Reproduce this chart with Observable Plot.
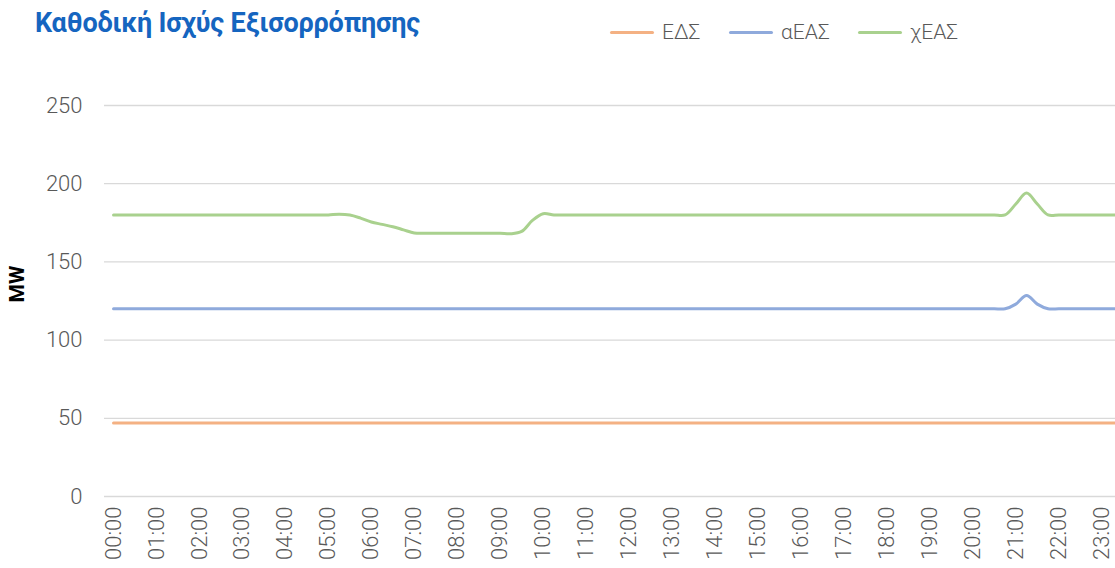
<!DOCTYPE html>
<html><head><meta charset="utf-8">
<script src="https://cdn.jsdelivr.net/npm/d3@7"></script>
<script src="https://cdn.jsdelivr.net/npm/@observablehq/plot@0.6"></script>
<style>
body{margin:0;background:#fff;font-family:Roboto,sans-serif;}
#wrap{position:relative;width:1115px;height:568px;overflow:hidden;background:#fff;}
#chart{position:absolute;left:0;top:0;}
#title{position:absolute;left:35px;top:7px;font-weight:700;font-size:27px;color:#1565c0;white-space:nowrap;letter-spacing:-0.2px;}
.leg{position:absolute;top:20px;height:24px;display:flex;align-items:center;font-size:21px;font-weight:300;color:#595959;white-space:nowrap;}
.sw{width:44px;height:3px;margin-right:8px;border-radius:2px;}
#mw{position:absolute;left:17px;top:284px;transform:translate(-50%,-50%) rotate(-90deg);font-weight:700;font-size:21px;color:#000;white-space:nowrap;}
</style></head>
<body>
<div id="wrap">
  <div id="chart"></div>
  <div id="title">Καθοδική Ισχύς Εξισορρόπησης</div>
  <div id="legends"></div>
  <div id="mw">MW</div>
</div>
<script>
const times = [
"00:00","00:15","00:30","00:45","01:00","01:15","01:30","01:45",
"02:00","02:15","02:30","02:45","03:00","03:15","03:30","03:45",
"04:00","04:15","04:30","04:45","05:00","05:15","05:30","05:45",
"06:00","06:15","06:30","06:45","07:00","07:15","07:30","07:45",
"08:00","08:15","08:30","08:45","09:00","09:15","09:30","09:45",
"10:00","10:15","10:30","10:45","11:00","11:15","11:30","11:45",
"12:00","12:15","12:30","12:45","13:00","13:15","13:30","13:45",
"14:00","14:15","14:30","14:45","15:00","15:15","15:30","15:45",
"16:00","16:15","16:30","16:45","17:00","17:15","17:30","17:45",
"18:00","18:15","18:30","18:45","19:00","19:15","19:30","19:45",
"20:00","20:15","20:30","20:45","21:00","21:15","21:30","21:45",
"22:00","22:15","22:30","22:45","23:00","23:15","23:30","23:45"];

const EDS = [
47,47,47,47,47,47,47,47, 47,47,47,47,47,47,47,47,
47,47,47,47,47,47,47,47, 47,47,47,47,47,47,47,47,
47,47,47,47,47,47,47,47, 47,47,47,47,47,47,47,47,
47,47,47,47,47,47,47,47, 47,47,47,47,47,47,47,47,
47,47,47,47,47,47,47,47, 47,47,47,47,47,47,47,47,
47,47,47,47,47,47,47,47, 47,47,47,47,47,47,47,47];

const aEAS = [
120,120,120,120,120,120,120,120, 120,120,120,120,120,120,120,120,
120,120,120,120,120,120,120,120, 120,120,120,120,120,120,120,120,
120,120,120,120,120,120,120,120, 120,120,120,120,120,120,120,120,
120,120,120,120,120,120,120,120, 120,120,120,120,120,120,120,120,
120,120,120,120,120,120,120,120, 120,120,120,120,120,120,120,120,
120,120,120,120,123,128.5,123,120, 120,120,120,120,120,120,120,120];

const xEAS = [
180,180,180,180,180,180,180,180, 180,180,180,180,180,180,180,180,
180,180,180,180,180,180.5,180,178, 175.5,174,172.5,170.5,168.5,168.3,168.3,168.3,
168.3,168.3,168.3,168.3,168.3,168,169.5,176.5, 180.8,180,180,180,180,180,180,180,
180,180,180,180,180,180,180,180, 180,180,180,180,180,180,180,180,
180,180,180,180,180,180,180,180, 180,180,180,180,180,180,180,180,
180,180,180,180,187,194,187,180, 180,180,180,180,180,180,180,180];

const hourLabels = ["00:00","01:00","02:00","03:00","04:00","05:00","06:00","07:00","08:00","09:00","10:00","11:00",
"12:00","13:00","14:00","15:00","16:00","17:00","18:00","19:00","20:00","21:00","22:00","23:00"];
const yTicks = [0,50,100,150,200,250];
const seriesNames = ["ΕΔΣ","αΕΑΣ","χΕΑΣ"];
const seriesColors = ["#f4b183","#8faadc","#a9d18e"];
const seriesValues = [EDS, aEAS, xEAS];

const toHour = s => { const [h,m] = s.split(":").map(Number); return h + m/60; };
const rows = [];
seriesNames.forEach((name, k) => {
  times.forEach((t, i) => rows.push({series: name, t: toHour(t), v: seriesValues[k][i]}));
});
const hourPos = hourLabels.map(toHour);

const plot = Plot.plot({
  width: 1115, height: 568,
  marginLeft: 104, marginRight: 0, marginTop: 105, marginBottom: 72,
  x: {type: "linear", domain: [-0.21, 23.32]},
  y: {domain: [0, 250]},
  color: {domain: seriesNames, range: seriesColors},
  style: {fontFamily: "Roboto, sans-serif", fontSize: "22px", fontWeight: 300, color: "#595959", background: "transparent"},
  marks: [
    Plot.ruleY(yTicks, {stroke: "#d9d9d9", strokeWidth: 1.3}),
    Plot.axisY({ticks: yTicks, tickSize: 0, tickPadding: 22, fontSize: 22, fill: "#595959", label: null}),
    Plot.axisX({ticks: hourPos, tickFormat: (d, i) => hourLabels[i], tickRotate: -90, tickSize: 0, tickPadding: 10, fontSize: 22, fill: "#595959", label: null}),
    Plot.line(rows, {x: "t", y: "v", z: "series", stroke: "series", strokeWidth: 3, curve: "catmull-rom", clip: true, strokeLinecap: "round"})
  ]
});
document.getElementById("chart").appendChild(plot);

const legPos = [610, 729, 858];
const lg = document.getElementById("legends");
seriesNames.forEach((n, i) => {
  const d = document.createElement("div");
  d.className = "leg"; d.style.left = legPos[i] + "px";
  d.innerHTML = `<div class="sw" style="background:${seriesColors[i]}"></div><span>${n}</span>`;
  lg.appendChild(d);
});
</script>
</body></html>
